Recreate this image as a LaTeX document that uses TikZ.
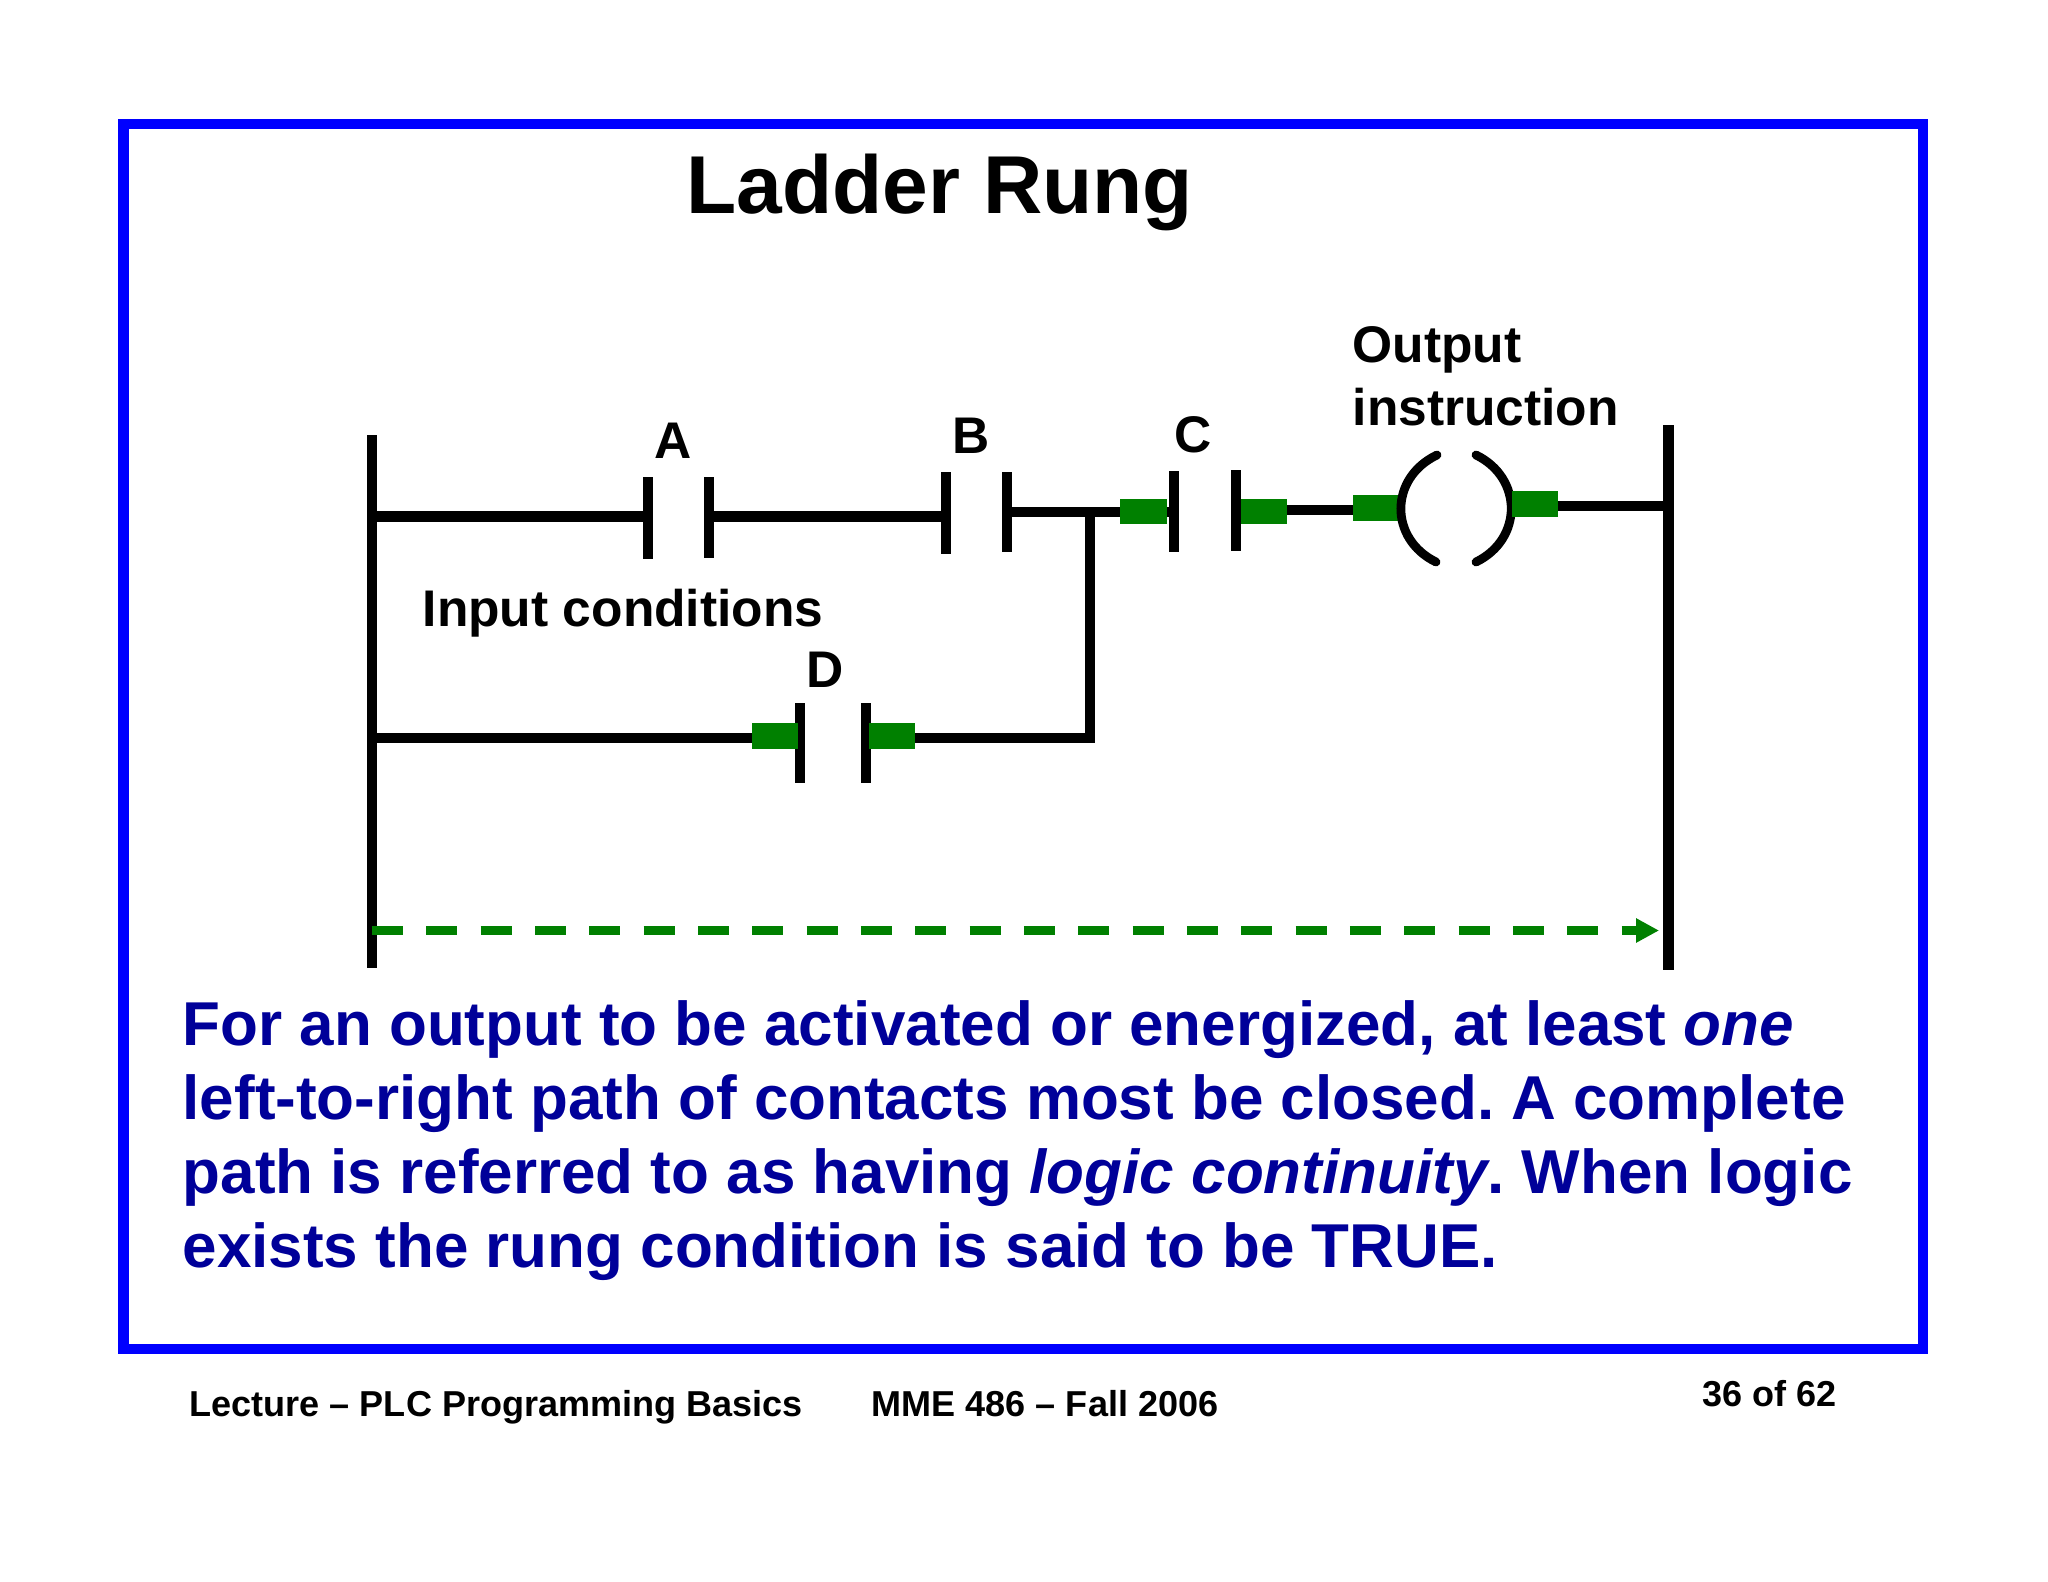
\documentclass[tikz,border=0pt]{standalone}
\usepackage{fontspec}
\setmainfont{Liberation Sans}
\usetikzlibrary{arrows.meta}
\definecolor{cornice}{RGB}{0,0,255}
\definecolor{testo}{RGB}{0,0,153}
\definecolor{verde}{RGB}{0,128,0}
\frenchspacing
\tikzset{
    rail/.style = {line width = 3.1pt},
    rung/.style = {line width = 3.1pt},
    wire/.style = {line width = 2.8pt},
    plate/.style = {line width = 2.9pt},
    coil/.style = {line width = 2.5pt, line cap = round},
    flow/.style = {fill = verde},
    label/.style = {anchor = base west, inner sep = 0pt, font = \fontsize{14.65}{14.65}\selectfont\bfseries},
    body/.style = {anchor = base west, inner sep = 0pt, text = testo, font = \fontsize{17.62}{17.62}\selectfont\bfseries},
    foot/.style = {anchor = base west, inner sep = 0pt, font = \fontsize{10.25}{10.25}\selectfont\bfseries}
}
\begin{document}
\begin{tikzpicture}[x = 0.01cm, y = -0.01cm]
    \useasboundingbox (0,0) rectangle (2048,1582);
    % Cornice
    \draw[cornice, line width = 3pt] (123.5,124) rectangle (1923,1349);
    % Testi
    \node[anchor = base west, inner sep = 0pt, font = \fontsize{23.35}{23.35}\selectfont\bfseries] (titolo) at (686,214) {Ladder Rung};
    \node[label] (output) at (1352,363) {Output};
    \node[label] (instruction) at (1352,425) {instruction};
    \node[label] (input) at (422,626) {Input conditions};
    \node[label, anchor = base] (nomeA) at (673,458) {A};
    \node[label, anchor = base] (nomeB) at (971,453) {B};
    \node[label, anchor = base] (nomeC) at (1193,452) {C};
    \node[label, anchor = base] (nomeD) at (825,687) {D};
    \node[body] (riga1) at (182,1045) {For an output to be activated or energized, at least \textit{one}};
    \node[body] (riga2) at (182,1119) {left-to-right path of contacts most be closed. A complete};
    \node[body] (riga3) at (182,1193) {path is referred to as having \textit{logic continuity}. When logic};
    \node[body] (riga4) at (182,1267) {exists the rung condition is said to be TRUE.};
    \node[foot] (corso) at (189,1416) {Lecture – PLC Programming Basics};
    \node[foot] (mme) at (871,1416) {MME 486 – Fall 2006};
    \node[foot] (pagina) at (1702,1406) {36 of 62};
    % Punti
    \coordinate (railLtop) at (372,435);
    \coordinate (railLbot) at (372,968);
    \coordinate (railRtop) at (1668.5,425);
    \coordinate (railRbot) at (1668.5,970);
    \coordinate (railLa) at (372,516.5);
    \coordinate (railLd) at (372,738);
    \coordinate (railRa) at (1668,506);
    \coordinate (railLf) at (372,930.5);
    \coordinate (tipF) at (1659,930.5);
    \coordinate (aL) at (648,516.5);
    \coordinate (aR) at (709,516.5);
    \coordinate (bL) at (946,516.5);
    \coordinate (bR) at (1007,512);
    \coordinate (cL) at (1174,512);
    \coordinate (cR) at (1236,510);
    \coordinate (coilL) at (1404,510);
    \coordinate (coilR) at (1511,506);
    \coordinate (dL) at (800,738);
    \coordinate (dR) at (866,738);
    \coordinate (nodo) at (1090,512);
    \coordinate (angolo) at (1090,738);
    % Binari
    \draw[rail] (railLtop) -- (railLbot);
    \draw[rail] (railRtop) -- (railRbot);
    % Rami
    \draw[rung] (railLa) -- (aL);
    \draw[rung] (aR) -- (bL);
    \draw[wire] (bR) -- (cL);
    \draw[wire] (cR) -- (coilL);
    \draw[wire] (coilR) -- (railRa);
    \draw[wire] (railLd) -- (dL);
    \draw[wire] (dR) -- (angolo) -- (nodo);
    % Contatti
    \draw[plate] (648,477) -- (648,559);
    \draw[plate] (709,477) -- (709,558);
    \draw[plate] (946,472) -- (946,554);
    \draw[plate] (1007,472) -- (1007,552);
    \draw[plate] (1174,471) -- (1174,552);
    \draw[plate] (1236,470) -- (1236,551);
    \draw[plate] (800,703) -- (800,783);
    \draw[plate] (866,703) -- (866,783);
    % Flusso
    \fill[flow] (1120,499) rectangle (1167,524);
    \fill[flow] (1241,499) rectangle (1287,524);
    \fill[flow] (1353,495) rectangle (1400,521);
    \fill[flow] (752,723) rectangle (798,749);
    \fill[flow] (869,723) rectangle (915,749);
    % Bobina
    \draw[coil] (1437,455) .. controls (1389,478) and (1389,539) .. (1436,562);
    \draw[coil] (1476,455) .. controls (1523,478) and (1523,539) .. (1476,562);
    \fill[flow] (1512,491) rectangle (1558,517);
    % Freccia
    \draw[verde, line width = 2.3pt, dash pattern = on 8.82pt off 6.63pt, -{Triangle[length = 6.5pt, width = 6.5pt]}] (railLf) -- (tipF);
\end{tikzpicture}
\end{document}
